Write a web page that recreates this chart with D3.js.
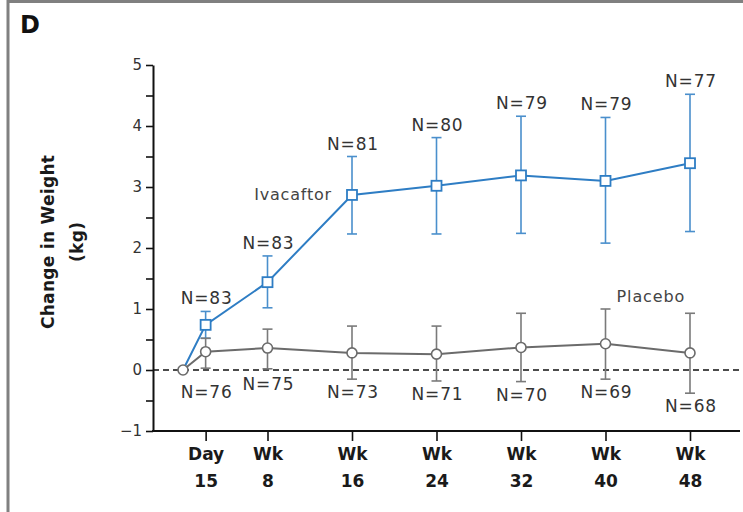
<!DOCTYPE html>
<html>
<head>
<meta charset="utf-8">
<script src="https://cdn.jsdelivr.net/npm/d3@7"></script>
<style>
  html, body { margin: 0; padding: 0; background: #fff; }
  svg { display: block; }
  text { font-family: "DejaVu Sans", sans-serif; }
</style>
</head>
<body>
<svg id="chart" width="743" height="512"></svg>
<script>
// ---------- data ----------
const weeks = [0, 15 / 7, 8, 16, 24, 32, 40, 48];
const tickWeeks = [15 / 7, 8, 16, 24, 32, 40, 48];
const tickTop = ["Day", "Wk", "Wk", "Wk", "Wk", "Wk", "Wk"];
const tickBottom = ["15", "8", "16", "24", "32", "40", "48"];

const ivaMean = [0, 0.74, 1.44, 2.87, 3.02, 3.19, 3.10, 3.39];
const ivaHigh = [null, 0.96, 1.87, 3.50, 3.81, 4.16, 4.14, 4.52];
const ivaLow  = [null, 0.52, 1.02, 2.23, 2.23, 2.24, 2.08, 2.27];
const ivaN    = [null, 83, 83, 81, 80, 79, 79, 77];

const plaMean = [0, 0.30, 0.36, 0.28, 0.26, 0.37, 0.43, 0.28];
const plaHigh = [null, 0.52, 0.67, 0.72, 0.72, 0.93, 1.00, 0.93];
const plaLow  = [null, 0.03, 0.02, -0.15, -0.18, -0.19, -0.15, -0.38];
const plaN    = [null, 76, 75, 73, 71, 70, 69, 68];

const yMajor = [-1, 0, 1, 2, 3, 4, 5];
const yMinor = [-0.5, 0.5, 1.5, 2.5, 3.5, 4.5];

// ---------- styles ----------
const BLUE = "#2e7dc4", BLUE_ERR = "#4a8fcc";
const GREY = "#6b6b6b", GREY_ERR = "#7a7a7a";
const TXT = "#333";

const svg = d3.select("#chart");
const x = d3.scaleLinear().domain([0, 48]).range([183, 690]);
const y = d3.scaleLinear().domain([-1, 5]).range([431, 65]);
const axisX = 153, axisRight = 740;

// frame (top and left rules)
svg.append("line").attr("x1", 8).attr("x2", 743).attr("y1", 1.5).attr("y2", 1.5)
  .attr("stroke", "#808080").attr("stroke-width", 3);
svg.append("line").attr("x1", 8).attr("x2", 8).attr("y1", 0).attr("y2", 512)
  .attr("stroke", "#808080").attr("stroke-width", 3);

// panel letter
svg.append("text").attr("x", 20).attr("y", 33).text("D")
  .attr("font-size", 24).attr("font-weight", "bold").attr("fill", "#111");

// y axis
const gy = svg.append("g").attr("transform", `translate(${axisX},0)`);
gy.call(d3.axisLeft(y).tickValues(yMajor).tickSize(7).tickSizeOuter(0)
  .tickFormat(d => d < 0 ? "\u2212" + Math.abs(d) : d));
gy.append("g").call(d3.axisLeft(y).tickValues(yMinor).tickSize(7).tickSizeOuter(0).tickFormat(""))
  .select(".domain").remove();
gy.selectAll("path.domain").attr("stroke", "#111").attr("stroke-width", 2);
gy.selectAll(".tick line").attr("stroke", "#111").attr("stroke-width", 1.6);
gy.selectAll(".tick text").attr("font-size", 15).attr("fill", TXT).attr("x", -11)
  .attr("font-family", "DejaVu Sans");

// y axis title
const yt = svg.append("text")
  .attr("transform", `translate(0,${y(2.1)}) rotate(-90)`)
  .attr("text-anchor", "middle").attr("font-size", 17).attr("font-weight", "bold")
  .attr("fill", "#1a1a1a").attr("letter-spacing", 0.3);
yt.append("tspan").attr("x", 0).attr("y", 54).text("Change in Weight");
yt.append("tspan").attr("x", 0).attr("y", 83).text("(kg)");

// x axis
svg.append("line").attr("x1", axisX - 1).attr("x2", axisRight).attr("y1", y(-1)).attr("y2", y(-1))
  .attr("stroke", "#111").attr("stroke-width", 2);
const gx = svg.append("g").attr("transform", `translate(0,${y(-1)})`);
gx.call(d3.axisBottom(x).tickValues(tickWeeks).tickSize(10).tickSizeOuter(0).tickFormat(""))
  .select(".domain").remove();
gx.selectAll(".tick line").attr("stroke", "#111").attr("stroke-width", 1.6);
gx.selectAll(".tick").each(function (d, i) {
  const t = d3.select(this).append("text").attr("text-anchor", "middle")
    .attr("font-size", 17).attr("font-weight", "bold").attr("fill", "#1a1a1a")
    .attr("font-family", "DejaVu Sans");
  t.append("tspan").attr("x", 0).attr("y", 29).text(tickTop[i]);
  t.append("tspan").attr("x", 0).attr("y", 56).text(tickBottom[i]);
});

// zero reference line
svg.append("line").attr("x1", axisX).attr("x2", axisRight).attr("y1", y(0)).attr("y2", y(0))
  .attr("stroke", "#111").attr("stroke-width", 1.5).attr("stroke-dasharray", "6,4");

// ---------- series ----------
function drawSeries(mean, hi, lo, color, errColor) {
  const g = svg.append("g");
  const idx = d3.range(weeks.length);
  const eb = idx.filter(i => hi[i] != null);
  g.selectAll("line.err").data(eb).join("line")
    .attr("x1", i => x(weeks[i])).attr("x2", i => x(weeks[i]))
    .attr("y1", i => y(hi[i])).attr("y2", i => y(lo[i]))
    .attr("stroke", errColor).attr("stroke-width", 1.6);
  [hi, lo].forEach(arr => {
    g.selectAll(null).data(eb).join("line")
      .attr("x1", i => x(weeks[i]) - 5).attr("x2", i => x(weeks[i]) + 5)
      .attr("y1", i => y(arr[i])).attr("y2", i => y(arr[i]))
      .attr("stroke", errColor).attr("stroke-width", 1.6);
  });
  g.append("path").datum(idx)
    .attr("d", d3.line().x(i => x(weeks[i])).y(i => y(mean[i])))
    .attr("fill", "none").attr("stroke", color).attr("stroke-width", 2);
  return g;
}

const gI = drawSeries(ivaMean, ivaHigh, ivaLow, BLUE, BLUE_ERR);
gI.selectAll("rect").data(d3.range(1, weeks.length)).join("rect")
  .attr("x", i => x(weeks[i]) - 5).attr("y", i => y(ivaMean[i]) - 5)
  .attr("width", 10).attr("height", 10)
  .attr("fill", "#fff").attr("stroke", BLUE).attr("stroke-width", 1.8);

const gP = drawSeries(plaMean, plaHigh, plaLow, GREY, GREY_ERR);
gP.selectAll("circle").data(d3.range(weeks.length)).join("circle")
  .attr("cx", i => x(weeks[i])).attr("cy", i => y(plaMean[i])).attr("r", 5)
  .attr("fill", "#fff").attr("stroke", GREY).attr("stroke-width", 1.6);

// N labels
const nStyle = sel => sel.attr("text-anchor", "middle").attr("font-size", 17)
  .attr("letter-spacing", 0.8).attr("fill", TXT);
svg.append("g").selectAll("text").data(d3.range(1, weeks.length)).join("text")
  .attr("x", i => x(weeks[i]) + 1).attr("y", i => y(ivaHigh[i]) - 7)
  .text(i => "N=" + ivaN[i]).call(nStyle);

const plaLabelDy = [0, 0, -8, 0, 0, 0, 0, 0];
svg.append("g").selectAll("text").data(d3.range(1, weeks.length)).join("text")
  .attr("x", i => x(weeks[i]) + 1)
  .attr("y", i => Math.max(y(plaLow[i]) + 13, y(0) + 22) + 6 + plaLabelDy[i])
  .text(i => "N=" + plaN[i]).call(nStyle);

// series labels
svg.append("text").attr("x", x(16) - 20).attr("y", y(ivaMean[3]) + 5)
  .attr("text-anchor", "end").attr("font-size", 16).attr("letter-spacing", 0.8)
  .attr("fill", "#444").text("Ivacaftor");
svg.append("text").attr("x", x(40) + 11).attr("y", y(plaHigh[6]) - 7)
  .attr("text-anchor", "start").attr("font-size", 16).attr("letter-spacing", 0.9)
  .attr("fill", "#444").text("Placebo");
</script>
</body>
</html>
